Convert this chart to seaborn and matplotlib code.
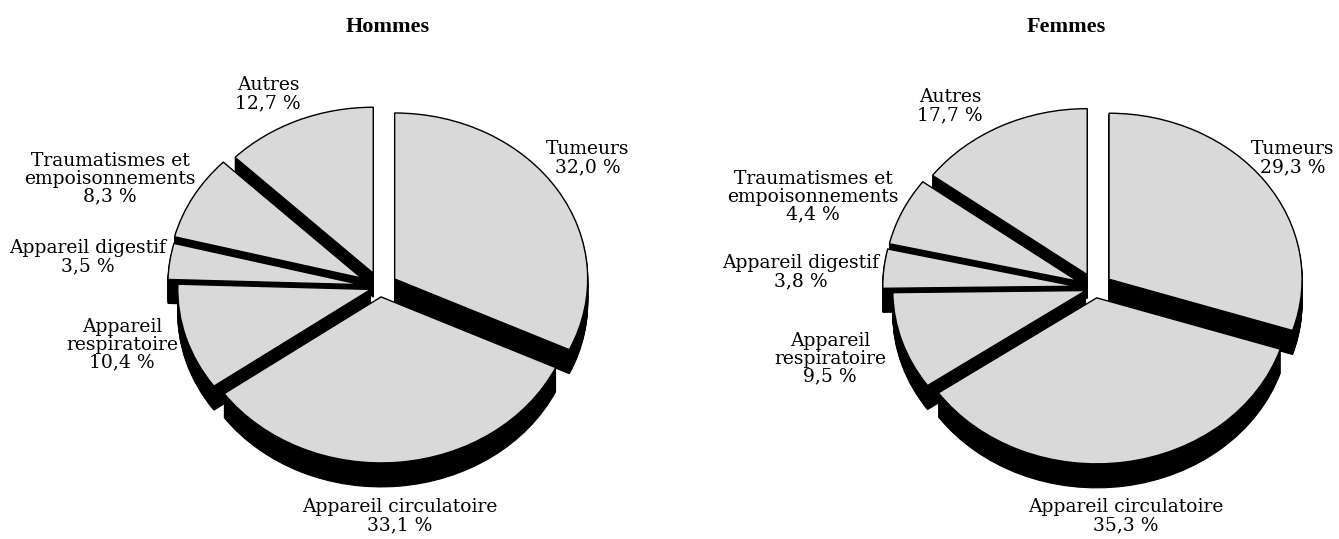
import matplotlib
matplotlib.use("Agg")
import matplotlib.pyplot as plt
import seaborn as sns

sns.set_theme(style="white")
plt.rcParams['font.family'] = ['Liberation Serif', 'DejaVu Serif']

W, H = 1339, 539
# shares as drawn
men_shares = [32.0, 33.1, 10.4, 3.5, 8.3, 12.7]
women_shares = [30.0, 35.3, 9.5, 3.8, 6.6, 14.8]
men_title = "Hommes"
women_title = "Femmes"
men_labels = ["Tumeurs\n32,0 %", "Appareil circulatoire\n33,1 %", "Appareil\nrespiratoire\n10,4 %",
              "Appareil digestif\n3,5 %", "Traumatismes et\nempoisonnements\n8,3 %", "Autres\n12,7 %"]
women_labels = ["Tumeurs\n29,3 %", "Appareil circulatoire\n35,3 %", "Appareil\nrespiratoire\n9,5 %",
                "Appareil digestif\n3,8 %", "Traumatismes et\nempoisonnements\n4,4 %", "Autres\n17,7 %"]
men_explode = [0.09, 0.06, 0.05, 0.10, 0.11, 0.09]
women_explode = [0.09, 0.06, 0.05, 0.10, 0.10, 0.09]

RX, RY, DEPTH = 193.0, 166.0, 24

fig = plt.figure(figsize=(W / 100, H / 100), dpi=100, facecolor="white")


def draw(shares, explode, cx, cy):
    ax = fig.add_axes([0, 0, 1, 1])
    ax.patch.set_alpha(0)
    for d in range(DEPTH, 0, -1):
        ax.pie(shares, explode=explode, startangle=90, counterclock=False, normalize=True,
               center=(0, -d / RY), colors=["black"],
               wedgeprops=dict(edgecolor="black", linewidth=0.8))
    ax.pie(shares, explode=explode, startangle=90, counterclock=False, normalize=True,
           colors=["#D9D9D9"], wedgeprops=dict(edgecolor="black", linewidth=1.0))
    ax.set_aspect("auto")
    ax.set_xlim(-cx / RX, (W - cx) / RX)
    ax.set_ylim((cy - H) / RY, cy / RY)
    ax.axis("off")


draw(men_shares, men_explode, 380, 287)
draw(women_shares, women_explode, 1095, 288)


def label(x, y, s, **kw):
    fig.text(x / W, 1 - y / H, s, ha="center", va="center", color="black",
             linespacing=0.98, **kw)


LABEL = dict(fontsize=13.5, fontfamily=['DejaVu Serif'])
men_pos = [(588, 158), (400, 516), (122, 345), (88, 257), (110, 179), (268, 94)]
women_pos = [(1293, 158), (1126, 516), (830, 359), (801, 272), (813, 197), (950, 106)]
for (x, y), s in zip(men_pos, men_labels):
    label(x, y, s, **LABEL)
for (x, y), s in zip(women_pos, women_labels):
    label(x, y, s, **LABEL)
TITLE = dict(fontsize=16, fontweight="bold")
label(388, 27, men_title, **TITLE)
label(1066, 27, women_title, **TITLE)

fig.savefig("out.png", dpi=100)
